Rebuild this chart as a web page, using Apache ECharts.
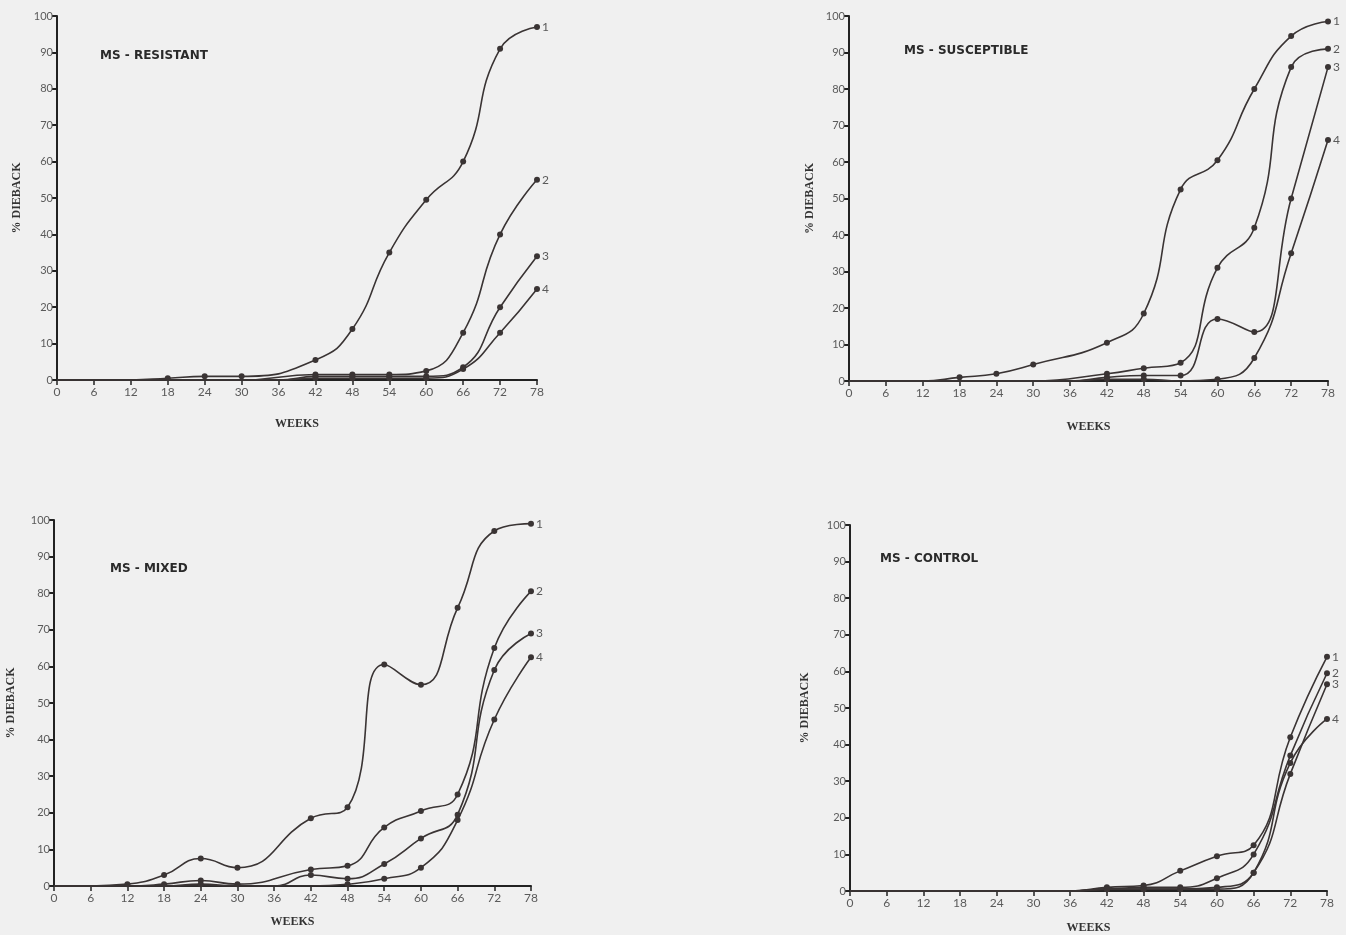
<!DOCTYPE html>
<html>
<head>
<meta charset="utf-8">
<script src="https://cdn.jsdelivr.net/npm/echarts@6/dist/echarts.min.js"></script>
<style>
html,body{margin:0;padding:0;background:#f0f0f0;}
#chart{width:1346px;height:935px;}
</style>
</head>
<body>
<div id="chart"></div>
<script>
// ---- data ----
const weeks = [0, 6, 12, 18, 24, 30, 36, 42, 48, 54, 60, 66, 72, 78];
const weekTicks = ['0','6','12','18','24','30','36','42','48','54','60','66','72','78'];
const seriesNames = ['1', '2', '3', '4'];
const panelTitles = ['MS - RESISTANT', 'MS - SUSCEPTIBLE', 'MS - MIXED', 'MS - CONTROL'];

// MS - RESISTANT
const resistant1 = [0, 0, 0, 0.5, 1, 1, null, 5.5, 14, 35, 49.5, 60, 91, 97];
const resistant2 = [0, 0, 0, 0, 0, 0, null, 1.5, 1.5, 1.5, 2.5, 13, 40, 55];
const resistant3 = [0, 0, 0, 0, 0, 0, 0, 1, 1, 1, 1, 3.5, 20, 34];
const resistant4 = [0, 0, 0, 0, 0, 0, 0, 0.5, 0.5, 0.5, 0.5, 3, 13, 25];

// MS - SUSCEPTIBLE
const susceptible1 = [0, 0, 0, 1, 2, 4.5, null, 10.5, 18.5, 52.5, 60.5, 80, 94.5, 98.5];
const susceptible2 = [0, 0, 0, 0, 0, 0, null, 2, 3.5, 5, 31, 42, 86, 91];
const susceptible3 = [0, 0, 0, 0, 0, 0, 0, 1, 1.5, 1.5, 17, 13.4, 50, 86];
const susceptible4 = [0, 0, 0, 0, 0, 0, 0, 0.5, 0.5, 0, 0.5, 6.3, 35, 66];

// MS - MIXED
const mixed1 = [0, 0, 0.5, 3, 7.5, 5, null, 18.5, 21.5, 60.5, 55, 76, 97, 99];
const mixed2 = [0, 0, 0, 0.5, 1.5, 0.5, null, 4.5, 5.5, 16, 20.5, 25, 65, 80.5];
const mixed3 = [0, 0, 0, 0, 0.5, 0, 0, 3, 2, 6, 13, 19.5, 59, 69];
const mixed4 = [0, 0, 0, 0, 0, 0, 0, 0, 0.5, 2, 5, 18, 45.5, 62.5];

// MS - CONTROL
const control1 = [0, 0, 0, 0, 0, 0, 0, 1, 1.5, 5.5, 9.5, 12.5, 42, 64];
const control2 = [0, 0, 0, 0, 0, 0, 0, 0.5, 1, 1, 3.5, 10, 37, 59.5];
const control3 = [0, 0, 0, 0, 0, 0, 0, 0.5, 0.5, 0.5, 1, 5, 32, 56.5];
const control4 = [0, 0, 0, 0, 0, 0, 0, 0.5, 0.5, 0.5, 0.5, 5, 35, 47];

const panelData = [
  [resistant1, resistant2, resistant3, resistant4],
  [susceptible1, susceptible2, susceptible3, susceptible4],
  [mixed1, mixed2, mixed3, mixed4],
  [control1, control2, control3, control4]
];

// ---- layout / style ----
const grids = [
  {left: 57, top: 16, width: 480, height: 364},
  {left: 849, top: 16, width: 479, height: 365},
  {left: 54, top: 520, width: 477, height: 366},
  {left: 850, top: 525, width: 477, height: 366}
];
const yNameGap = [34, 33, 37, 39];
const xNameGap = [38, 40, 30, 31];
const titlePos = [[100, 57], [904, 52], [110, 570], [880, 560]];

const ink = '#3a3434';
const labelColor = '#5a5a5a';
const tickFont = 'Lato, "DejaVu Sans", sans-serif';

const chart = echarts.init(document.getElementById('chart'), null, {renderer: 'canvas'});

const xAxes = [], yAxes = [], series = [], graphics = [];
grids.forEach((g, p) => {
  xAxes.push({
    type: 'value', gridIndex: p, min: 0, max: 78, interval: 6,
    name: 'WEEKS', nameLocation: 'middle', nameGap: xNameGap[p],
    nameTextStyle: {fontFamily: '"Liberation Serif", serif', fontWeight: 'bold', fontSize: 12, color: '#333'},
    axisLine: {show: true, onZero: false, lineStyle: {color: '#222', width: 2}},
    axisTick: {show: true, inside: false, length: 5, lineStyle: {color: '#222', width: 1.5}},
    axisLabel: {color: labelColor, fontFamily: tickFont, fontSize: 12, margin: 6,
      formatter: v => weekTicks[weeks.indexOf(v)] ?? String(v)},
    splitLine: {show: false}
  });
  yAxes.push({
    type: 'value', gridIndex: p, min: 0, max: 100, interval: 10,
    name: '% DIEBACK', nameLocation: 'middle', nameRotate: 90, nameGap: yNameGap[p],
    nameTextStyle: {fontFamily: '"Liberation Serif", serif', fontWeight: 'bold', fontSize: 12, color: '#333'},
    axisLine: {show: true, lineStyle: {color: '#222', width: 2}},
    axisTick: {show: true, inside: false, length: 5, lineStyle: {color: '#222', width: 2}},
    axisLabel: {color: labelColor, fontFamily: tickFont, fontSize: 11, margin: 4},
    splitLine: {show: false}
  });
  panelData[p].forEach((vals, s) => {
    series.push({
      type: 'line', name: seriesNames[s], xAxisIndex: p, yAxisIndex: p,
      data: weeks.map((w, i) => [w, vals[i]]),
      connectNulls: true,
      smooth: 0.5,
      symbol: 'circle',
      symbolSize: v => (v[1] > 0 ? 6 : 0),
      itemStyle: {color: ink},
      lineStyle: {color: ink, width: 1.6},
      endLabel: {show: true, formatter: seriesNames[s], color: labelColor, fontFamily: tickFont, fontSize: 12, distance: 5},
      z: 3
    });
  });
  graphics.push({
    type: 'text', left: titlePos[p][0], top: titlePos[p][1] - 7,
    style: {text: panelTitles[p], fill: '#2a2a2a', font: 'bold 12px "DejaVu Sans", sans-serif'}
  });
});

chart.setOption({
  backgroundColor: '#f0f0f0',
  animation: false,
  grid: grids,
  xAxis: xAxes,
  yAxis: yAxes,
  series: series,
  graphic: graphics
});
</script>
</body>
</html>
